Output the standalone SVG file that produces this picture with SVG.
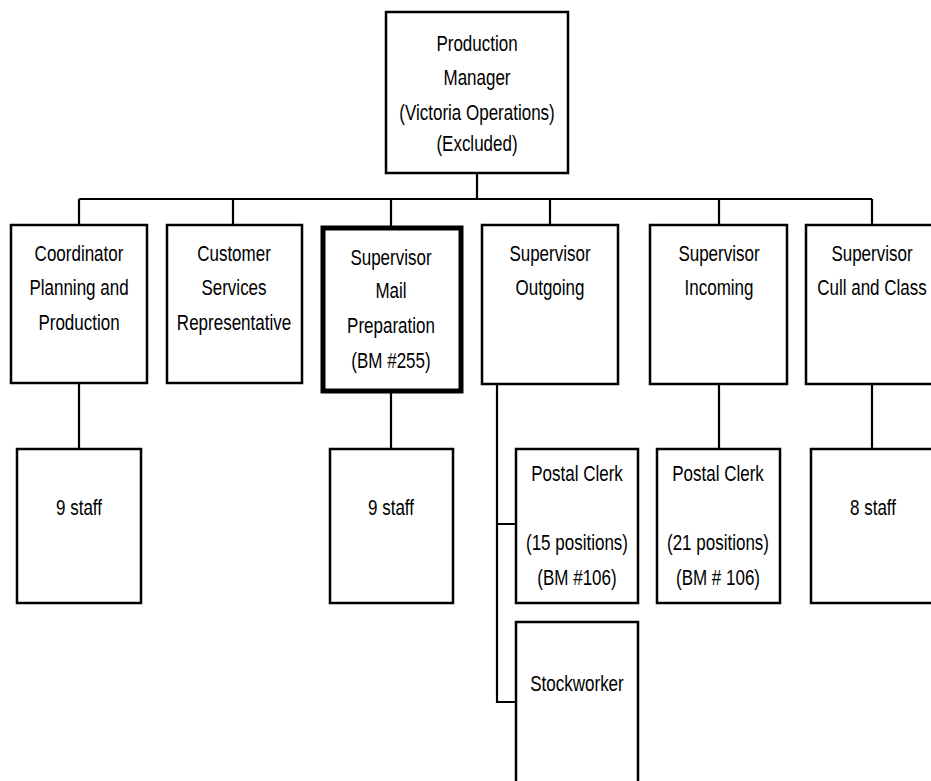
<svg xmlns="http://www.w3.org/2000/svg" width="931" height="781" viewBox="0 0 931 781">
<style>
.box{fill:#fff;stroke:#000;stroke-width:2.5}
.thick{fill:#fff;stroke:#000;stroke-width:5}
.ln{fill:none;stroke:#000;stroke-width:2.2}
text{font-family:"Liberation Sans",Arial,sans-serif;font-size:17px;fill:#000;text-anchor:middle}
</style>
<rect width="931" height="781" fill="#fff"/>
<g id="connectors">
<path class="ln" d="M477 173V199M79 199H872M79 199V225M233 199V225M391 199V226M550 199V225M719 199V225M872 199V225"/>
<path class="ln" d="M79 383V449M391 393V449M719 384V449M872 384V449"/>
<path class="ln" d="M497 384V702H516M497 524H516"/>
</g>
<g id="n-manager">
<rect class="box" x="386" y="12" width="182" height="161"/>
<text transform="translate(477 51) scale(1 1.3)">Production</text>
<text transform="translate(477 85) scale(1 1.3)">Manager</text>
<text transform="translate(477 120) scale(1 1.3)">(Victoria Operations)</text>
<text transform="translate(477 151) scale(1 1.3)">(Excluded)</text>
</g>
<g id="n-coordinator">
<rect class="box" x="11" y="225" width="136" height="158"/>
<text transform="translate(79 261) scale(1 1.3)">Coordinator</text>
<text transform="translate(79 295) scale(1 1.3)">Planning and</text>
<text transform="translate(79 330) scale(1 1.3)">Production</text>
</g>
<g id="n-customer">
<rect class="box" x="167" y="225" width="135" height="158"/>
<text transform="translate(234 261) scale(1 1.3)">Customer</text>
<text transform="translate(234 295) scale(1 1.3)">Services</text>
<text transform="translate(234 330) scale(1 1.3)">Representative</text>
</g>
<g id="n-mailprep">
<rect class="thick" x="323" y="228" width="138" height="163"/>
<text transform="translate(391 265) scale(1 1.3)">Supervisor</text>
<text transform="translate(391 298) scale(1 1.3)">Mail</text>
<text transform="translate(391 333) scale(1 1.3)">Preparation</text>
<text transform="translate(391 368) scale(1 1.3)">(BM #255)</text>
</g>
<g id="n-outgoing">
<rect class="box" x="482" y="225" width="136" height="159"/>
<text transform="translate(550 261) scale(1 1.3)">Supervisor</text>
<text transform="translate(550 295) scale(1 1.3)">Outgoing</text>
</g>
<g id="n-incoming">
<rect class="box" x="650" y="225" width="137" height="159"/>
<text transform="translate(719 261) scale(1 1.3)">Supervisor</text>
<text transform="translate(719 295) scale(1 1.3)">Incoming</text>
</g>
<g id="n-cull">
<rect class="box" x="806" y="225" width="134" height="159"/>
<text transform="translate(872 261) scale(1 1.3)">Supervisor</text>
<text transform="translate(872 295) scale(1 1.3)">Cull and Class</text>
</g>
<g id="n-staff1">
<rect class="box" x="17" y="449" width="124" height="154"/>
<text transform="translate(79 515) scale(1 1.3)">9 staff</text>
</g>
<g id="n-staff2">
<rect class="box" x="330" y="449" width="123" height="154"/>
<text transform="translate(391 515) scale(1 1.3)">9 staff</text>
</g>
<g id="n-clerk1">
<rect class="box" x="516" y="449" width="122" height="154"/>
<text transform="translate(577 481) scale(1 1.3)">Postal Clerk</text>
<text transform="translate(577 550) scale(1 1.3)">(15 positions)</text>
<text transform="translate(577 585) scale(1 1.3)">(BM #106)</text>
</g>
<g id="n-clerk2">
<rect class="box" x="657" y="449" width="123" height="154"/>
<text transform="translate(718 481) scale(1 1.3)">Postal Clerk</text>
<text transform="translate(718 550) scale(1 1.3)">(21 positions)</text>
<text transform="translate(718 585) scale(1 1.3)">(BM # 106)</text>
</g>
<g id="n-staff3">
<rect class="box" x="811" y="449" width="130" height="154"/>
<text transform="translate(873 515) scale(1 1.3)">8 staff</text>
</g>
<g id="n-stock">
<rect class="box" x="516" y="622" width="122" height="170"/>
<text transform="translate(577 691) scale(1 1.3)">Stockworker</text>
</g>
</svg>
